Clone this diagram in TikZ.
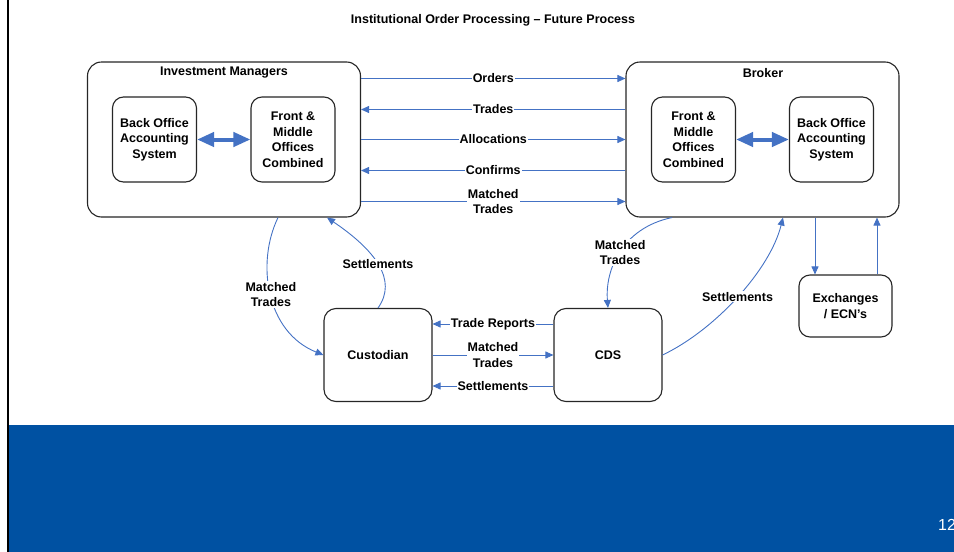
\documentclass[tikz,border=0pt]{standalone}
\usepackage{fontspec}
\setmainfont{Liberation Sans}
\usetikzlibrary{arrows.meta, positioning, calc}
\definecolor{flowblue}{RGB}{68, 114, 196}
\definecolor{bandblue}{RGB}{0, 81, 162}

\begin{document}
\begin{tikzpicture}[
  x=1pt, y=-1pt,
  every node/.style={font=\fontsize{12.5}{15.5}\selectfont\bfseries, align=center, inner sep=1pt},
  party/.style={draw=black!85, fill=white, line width=1.1pt, rounded corners=14pt, minimum width=273pt, minimum height=155pt},
  unit/.style={draw=black!85, fill=white, line width=1.1pt, rounded corners=11pt, minimum width=84pt, minimum height=85pt},
  hub/.style={draw=black!85, fill=white, line width=1.1pt, rounded corners=12pt, minimum width=108pt, minimum height=93pt},
  arr/.style={-{Triangle[length=8pt, width=7pt]}, draw=flowblue, line width=0.9pt},
  dbl/.style={{Triangle[length=17pt, width=14pt]}-{Triangle[length=17pt, width=14pt]}, draw=flowblue, line width=4pt},
  lbl/.style={fill=white, inner sep=1pt}
]
  \useasboundingbox (0,0) rectangle (954,552);

  % Slide frame
  \fill[bandblue] (9,425) rectangle (954,552);
  \draw[line width=2pt] (8,0) -- (8,552);
  \node (title) at (493,20) {Institutional Order Processing – Future Process};
  \node[font=\fontsize{16}{18}\selectfont, text=white, anchor=base west] (pagenum) at (937,530) {12};

  % Investment managers side
  \node[party] (im)      at (224,139.5) {};
  \node        (imtitle) at (224,73)    {Investment Managers};
  \node[unit]  (imback)  at (154.5,139.5) {Back Office\\Accounting\\System};
  \node[unit]  (imfront) at (293,139.5)   {Front \&\\Middle\\Offices\\Combined};

  % Broker side
  \node[party] (br)      at (762.5,139.5) {};
  \node        (brtitle) at (763,73)      {Broker};
  \node[unit]  (brfront) at (693.5,139.5) {Front \&\\Middle\\Offices\\Combined};
  \node[unit]  (brback)  at (831.5,139.5) {Back Office\\Accounting\\System};

  % Settlement layer
  \node[hub] (cust) at (378,355) {Custodian};
  \node[hub] (cds)  at (608,355) {CDS};
  \node[unit, minimum width=93pt, minimum height=62pt] (exch) at (845.5,306) {Exchanges\\/ ECN’s};

  % Inside the two parties
  \draw[dbl] (imback.east) -- (imfront.west);
  \draw[dbl] (brfront.east) -- (brback.west);

  % Between the parties
  \draw[arr] ([yshift=61pt]im.east)  -- ([yshift=61pt]br.west)  node[midway, lbl] {Orders};
  \draw[arr] ([yshift=30pt]br.west)  -- ([yshift=30pt]im.east)  node[midway, lbl] {Trades};
  \draw[arr] (im.east)               -- (br.west)               node[midway, lbl] {Allocations};
  \draw[arr] ([yshift=-31pt]br.west) -- ([yshift=-31pt]im.east) node[midway, lbl] {Confirms};
  \draw[arr] ([yshift=-62pt]im.east) -- ([yshift=-62pt]br.west) node[midway, lbl] {Matched\\Trades};

  % Custodian and CDS
  \draw[arr] ([yshift=31pt]cds.west)   -- ([yshift=31pt]cust.east)  node[midway, lbl] {Trade Reports};
  \draw[arr] (cust.east)               -- (cds.west)                node[midway, lbl] {Matched\\Trades};
  \draw[arr] ([yshift=-31pt]cds.west)  -- ([yshift=-31pt]cust.east) node[midway, lbl] {Settlements};

  % Curved flows
  \draw[arr] ([xshift=54pt]im.south) .. controls (256,263) and (266,332) .. (cust.west)
    node[pos=0.5, lbl] {Matched\\Trades};
  \draw[arr] (cust.north) .. controls (398,280) and (375,250) .. ([xshift=103pt]im.south)
    node[pos=0.5, lbl] {Settlements};
  \draw[arr] ([xshift=-90.5pt]br.south) .. controls (622,228) and (605,270) .. (cds.north)
    node[pos=0.5, lbl] {Matched\\Trades};
  \draw[arr] (cds.east) .. controls (715,330) and (770,270) .. ([xshift=20.5pt]br.south)
    node[pos=0.5, lbl] {Settlements};

  % Exchanges
  \draw[arr] ([xshift=52.5pt]br.south)  -- ([xshift=-30.5pt]exch.north);
  \draw[arr] ([xshift=31.5pt]exch.north) -- ([xshift=114.5pt]br.south);
\end{tikzpicture}
\end{document}
